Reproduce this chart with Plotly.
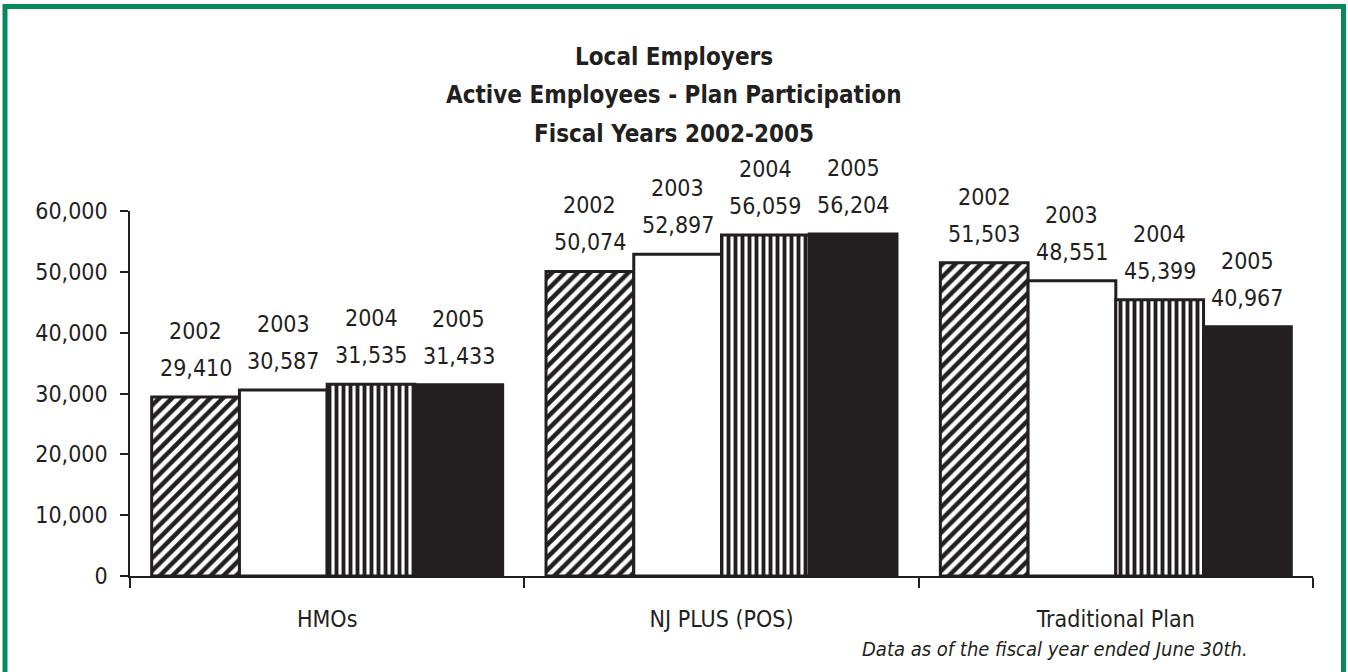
import plotly.graph_objects as go

categories = ["HMOs", "NJ PLUS (POS)", "Traditional Plan"]
years = ["2002", "2003", "2004", "2005"]
values_2002 = [29410, 50074, 51503]
values_2003 = [30587, 52897, 48551]
values_2004 = [31535, 56059, 45399]
values_2005 = [31433, 56204, 40967]
series = [values_2002, values_2003, values_2004, values_2005]

title_lines = ["Local Employers", "Active Employees - Plan Participation", "Fiscal Years 2002-2005"]
footnote = "Data as of the fiscal year ended June 30th."

INK = "#231f20"
GREEN = "#08895a"
FONT = "DejaVu Sans Condensed, Noto Sans, sans-serif"

# plot-area pixel geometry (for converting page pixels to paper coords of layout items)
PL, PR, PT, PB = 130, 1313, 211, 576
def px(xp):
    return (xp - PL) / (PR - PL)
def py(yp):
    return (PB - yp) / (PB - PT)

styles = [
    dict(color="white", pattern=dict(shape="/", fgcolor=INK, bgcolor="white", fgopacity=1,
                                     size=9, solidity=0.5)),
    dict(color="white"),
    dict(color="white", pattern=dict(shape="|", fgcolor=INK, bgcolor="white", fgopacity=1,
                                     size=7, solidity=0.55)),
    dict(color=INK),
]

BARGAP = 0.11
fig = go.Figure()
for yr, vals, st in zip(years, series, styles):
    fig.add_trace(go.Bar(
        x=categories, y=vals, name=yr,
        marker=dict(line=dict(color=INK, width=3), **st),
        hoverinfo="x+y+name",
    ))

annotations = []
n = len(years)
w = (1 - BARGAP) / n
for k, (yr, vals) in enumerate(zip(years, series)):
    off = (k - (n - 1) / 2) * w
    for i, v in enumerate(vals):
        annotations.append(dict(x=i + off, y=v, xref="x", yref="y", text=f"{v:,}",
                                showarrow=False, yanchor="middle", yshift=29,
                                font=dict(family=FONT, size=23, color=INK)))
        annotations.append(dict(x=i + off, y=v, xref="x", yref="y", text=yr,
                                showarrow=False, yanchor="middle", yshift=66,
                                font=dict(family=FONT, size=23, color=INK)))

title_y = [57, 95, 134]
for line, ty in zip(title_lines, title_y):
    annotations.append(dict(x=px(674), y=py(ty), xref="paper", yref="paper",
                            text=f"<b>{line}</b>", showarrow=False, xanchor="center", yanchor="middle",
                            font=dict(family=FONT, size=24, color=INK)))

annotations.append(dict(x=px(1250), y=py(649), xref="paper", yref="paper", text=f"<i>{footnote}</i>",
                        showarrow=False, xanchor="right", yanchor="middle",
                        font=dict(family=FONT, size=20, color=INK)))

fig.update_layout(
    width=1348, height=672,
    margin=dict(l=PL, r=1348 - PR, t=PT, b=672 - PB),
    paper_bgcolor="white", plot_bgcolor="white",
    barmode="group", bargap=BARGAP, bargroupgap=0,
    showlegend=False,
    font=dict(family=FONT, size=23, color=INK),
    xaxis=dict(showline=True, linecolor=INK, linewidth=1.5, ticks="outside", ticklen=10,
               tickwidth=1.5, tickcolor=INK, tickson="boundaries", showgrid=False,
               ticklabelstandoff=22, tickfont=dict(family=FONT, size=23, color=INK)),
    yaxis=dict(range=[0, 60000], dtick=10000, tickformat=",d", showline=True, linecolor=INK,
               linewidth=1.5, ticks="outside", ticklen=8, tickwidth=1.5, tickcolor=INK,
               showgrid=False, zeroline=False, ticklabelstandoff=8,
               tickfont=dict(family=FONT, size=23, color=INK)),
    annotations=annotations,
)

# Green page frame (layout only)
fig.add_shape(type="rect", xref="paper", yref="paper",
              x0=px(5), x1=px(1343.5), y0=py(690), y1=py(6.5),
              line=dict(color=GREEN, width=5), fillcolor="rgba(0,0,0,0)", layer="above")

fig.update_traces(cliponaxis=False)
fig.write_html("out.html", config={"displayModeBar": False},
               post_script="document.body.style.margin='0px';document.body.style.overflow='hidden';")
